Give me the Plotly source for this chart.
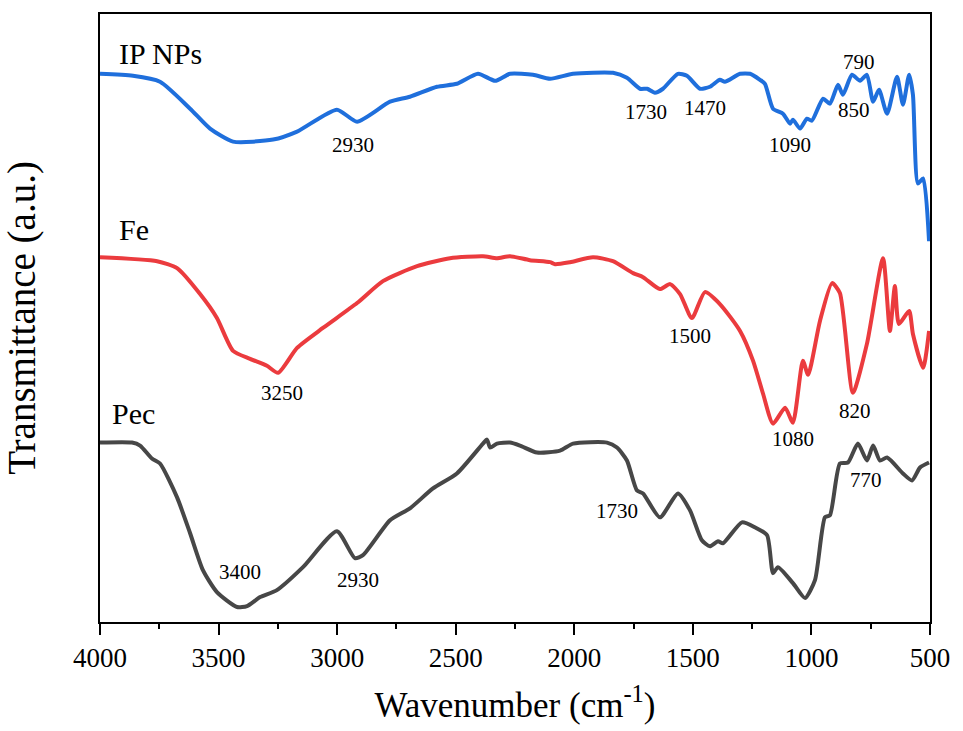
import plotly.graph_objects as go

# Wavenumber (cm-1) and transmittance (a.u., offset-stacked)
ip_wn = [4000, 3861, 3747, 3620, 3536, 3439, 3270, 3169, 3001, 2916, 2777, 2693, 2579, 2495,
         2406, 2334, 2271, 2174, 2102, 2005, 1837, 1778, 1723, 1693, 1660, 1626, 1563, 1525,
         1470, 1428, 1386, 1365, 1301, 1259, 1217, 1196, 1162, 1120, 1090, 1078, 1048, 1019,
         998, 951, 922, 888, 867, 829, 795, 766, 740, 715, 681, 639, 614, 588, 572, 551, 529, 504]
ip_t = [550, 548, 542, 515, 495, 482, 484, 492, 514, 502, 522, 527, 537, 540,
        550, 543, 550, 549, 545, 550, 551, 546, 535, 535, 531, 535, 550, 548,
        535, 537, 544, 542, 550, 550, 544, 540, 515, 510, 500, 504, 495, 505,
        503, 525, 520, 539, 529, 549, 543, 549, 522, 534, 510, 547, 519, 549, 529, 440, 445, 382]

fe_wn = [4000, 3759, 3675, 3578, 3507, 3439, 3367, 3296, 3249, 3169, 3060, 2916, 2807, 2663,
         2524, 2385, 2326, 2271, 2187, 2102, 2081, 2018, 1921, 1837, 1752, 1710, 1639, 1596,
         1554, 1504, 1449, 1386, 1301, 1246, 1204, 1162, 1111, 1078, 1036, 1014, 964, 913,
         880, 825, 766, 698, 669, 648, 631, 588, 572, 529, 504]
fe_t = [366, 362, 355, 329, 305, 272, 264, 257, 250, 275, 295, 320, 342, 357,
        365, 367, 365, 367, 363, 361, 359, 361, 366, 362, 350, 346, 334, 339,
        329, 305, 331, 319, 292, 262, 229, 199, 215, 200, 262, 248, 302, 340,
        330, 230, 279, 365, 292, 337, 299, 312, 289, 255, 292]

pec_wn = [4000, 3865, 3831, 3781, 3747, 3675, 3620, 3566, 3507, 3422, 3380, 3325, 3254, 3144,
          3001, 2925, 2891, 2777, 2693, 2596, 2495, 2385, 2368, 2355, 2326, 2271, 2229, 2157,
          2060, 2005, 1862, 1820, 1778, 1736, 1710, 1639, 1563, 1512, 1462, 1428, 1394, 1373,
          1293, 1238, 1187, 1162, 1141, 1078, 1027, 985, 943, 922, 880, 846, 804, 766, 740,
          711, 681, 614, 576, 542, 504]
pec_t = [180, 180, 177, 164, 159, 125, 89, 52, 30, 15, 16, 25, 32, 55,
         91, 64, 67, 102, 114, 134, 149, 179, 183, 175, 179, 180, 177, 170,
         172, 179, 180, 175, 162, 132, 129, 105, 129, 112, 82, 76, 81, 79,
         100, 95, 87, 49, 55, 39, 24, 42, 105, 107, 159, 160, 179, 162, 177,
         162, 165, 149, 142, 155, 160]

series_names = ["IP NPs", "Fe", "Pec"]
series_colors = ["#1f6fdc", "#eb3b3e", "#474747"]

# peak labels: (text, wavenumber, level)
ip_peaks = [("2930", 2933, 479), ("1730", 1698, 512), ("1470", 1449, 516),
            ("1090", 1090, 479), ("850", 820, 514), ("790", 799, 562)]
fe_peaks = [("3250", 3232, 230), ("1500", 1512, 287), ("1080", 1078, 184), ("820", 816, 212)]
pec_peaks = [("3400", 3410, 50), ("2930", 2912, 42), ("1730", 1820, 111), ("770", 770, 142)]
name_pos = [(3928, 570), (3928, 394), (3958, 209)]

fig = go.Figure()
for wn, t, name, col in zip([ip_wn, fe_wn, pec_wn], [ip_t, fe_t, pec_t], series_names, series_colors):
    fig.add_trace(go.Scatter(x=wn, y=t, mode="lines", name=name,
                             line=dict(color=col, width=4, shape="spline", smoothing=0.6)))

font_fam = "Liberation Serif, Times New Roman, serif"
for peaks in (ip_peaks, fe_peaks, pec_peaks):
    for txt, w, lv in peaks:
        fig.add_annotation(x=w, y=lv, text=txt, showarrow=False,
                           font=dict(family=font_fam, size=21, color="black"))
for (w, lv), name in zip(name_pos, series_names):
    fig.add_annotation(x=w, y=lv, text=name, showarrow=False, xanchor="left",
                       font=dict(family=font_fam, size=30, color="black"))

fig.update_layout(
    width=963, height=731,
    margin=dict(l=100, r=33, t=12, b=109),
    paper_bgcolor="white", plot_bgcolor="white",
    showlegend=False,
    font=dict(family=font_fam, color="black"),
)
fig.update_xaxes(
    range=[4000, 500], tickvals=[4000, 3500, 3000, 2500, 2000, 1500, 1000, 500],
    ticks="outside", ticklen=11, tickwidth=2, tickcolor="black",
    minor=dict(dtick=250, tick0=500, ticks="outside", ticklen=5, tickwidth=2, tickcolor="black"),
    showline=True, linecolor="black", linewidth=2, mirror=True,
    showgrid=False, zeroline=False,
    tickfont=dict(family=font_fam, size=27, color="black"),
    title=dict(text="Wavenumber (cm<sup>-1</sup>)", font=dict(family=font_fam, size=35, color="black"),
               standoff=20),
)
fig.update_yaxes(
    range=[0, 610], showticklabels=False, ticks="",
    showline=True, linecolor="black", linewidth=2, mirror=True,
    showgrid=False, zeroline=False,
    title=dict(text="Transmittance (a.u.)", font=dict(family=font_fam, size=39, color="black"),
               standoff=50),
)

fig.write_html("out.html")
